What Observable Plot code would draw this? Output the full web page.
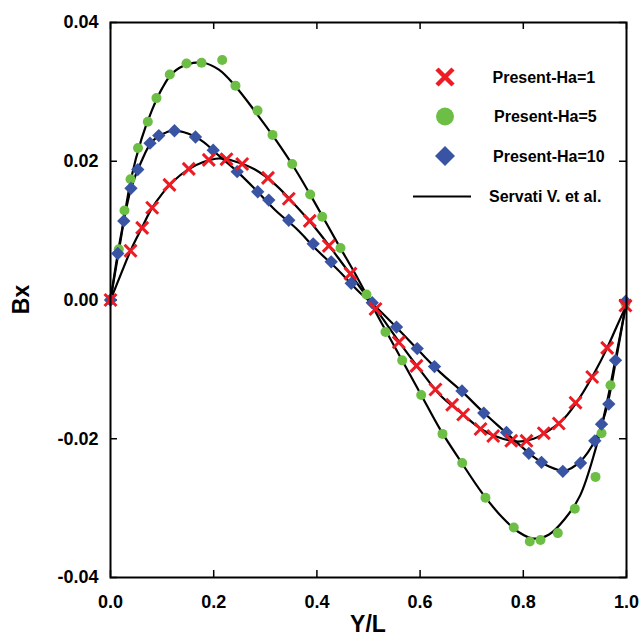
<!DOCTYPE html>
<html><head><meta charset="utf-8">
<script src="https://cdn.jsdelivr.net/npm/d3@7"></script>
<script src="https://cdn.jsdelivr.net/npm/@observablehq/plot@0.6"></script>
<style>
body{margin:0;background:#fff;}
#chart{width:640px;height:637px;}
</style></head><body><div id="chart"></div>
<script>
// Present results (markers)
const ha1X = [0, 0.0388, 0.0614, 0.0808, 0.1143, 0.1517, 0.1905, 0.2248, 0.2552, 0.3052, 0.3455, 0.3862, 0.4231, 0.4651, 0.5136, 0.5587, 0.5930, 0.6298, 0.6622, 0.6835, 0.7171, 0.7417, 0.7766, 0.8062, 0.8397, 0.8688, 0.9012, 0.9335, 0.9626, 0.998];
const ha1Y = [0, 0.0071, 0.0104, 0.0133, 0.0166, 0.0189, 0.0202, 0.0203, 0.0196, 0.0176, 0.0146, 0.0114, 0.0078, 0.0038, -0.0013, -0.0061, -0.0095, -0.0129, -0.0151, -0.0165, -0.0186, -0.0196, -0.0203, -0.0203, -0.0192, -0.0178, -0.0148, -0.0111, -0.0069, -0.0008];
const ha5X = [0, 0.0161, 0.0271, 0.0388, 0.0533, 0.0723, 0.0891, 0.1149, 0.1473, 0.1764, 0.2165, 0.2422, 0.2849, 0.3140, 0.3521, 0.3870, 0.4103, 0.4457, 0.4961, 0.5329, 0.5653, 0.6021, 0.6434, 0.6816, 0.7267, 0.7816, 0.8126, 0.8333, 0.8669, 0.8998, 0.9399, 0.9516, 0.9690, 0.998];
const ha5Y = [0, 0.0073, 0.0129, 0.0174, 0.0219, 0.0257, 0.0291, 0.0325, 0.0341, 0.0342, 0.0346, 0.0309, 0.0273, 0.0238, 0.0196, 0.0152, 0.0120, 0.0075, 0.0008, -0.0046, -0.0087, -0.0137, -0.0193, -0.0235, -0.0285, -0.0328, -0.0348, -0.0346, -0.0336, -0.0301, -0.0255, -0.0192, -0.0123, -0.0005];
const ha10X = [0, 0.0141, 0.0258, 0.0397, 0.0529, 0.0766, 0.0936, 0.1240, 0.1647, 0.1990, 0.2455, 0.2853, 0.3068, 0.3455, 0.3928, 0.4277, 0.4665, 0.5072, 0.5543, 0.5944, 0.6279, 0.6812, 0.7234, 0.7674, 0.8107, 0.8353, 0.8766, 0.9109, 0.9386, 0.9516, 0.9657, 0.9787, 0.998];
const ha10Y = [0, 0.0067, 0.0114, 0.0161, 0.0188, 0.0226, 0.0237, 0.0244, 0.0235, 0.0216, 0.0185, 0.0156, 0.0144, 0.0115, 0.0081, 0.0055, 0.0024, -0.0004, -0.0039, -0.0070, -0.0096, -0.0131, -0.0163, -0.0191, -0.0221, -0.0234, -0.0247, -0.0235, -0.0203, -0.0179, -0.0150, -0.0087, -0.0002];

// Servati V. et al. (solid lines)
const refX = [0, 0.02, 0.04, 0.06, 0.08, 0.10, 0.12, 0.15, 0.18, 0.21, 0.24, 0.28, 0.32, 0.36, 0.40, 0.44, 0.48, 0.52, 0.56, 0.60, 0.64, 0.68, 0.72, 0.76, 0.79, 0.82, 0.85, 0.88, 0.91, 0.94, 0.96, 0.98, 1.0];
const ref1Y = [0, 0.0037, 0.0073, 0.0103, 0.0132, 0.0153, 0.0170, 0.0188, 0.0199, 0.0204, 0.0200, 0.0188, 0.0166, 0.0135, 0.0101, 0.0062, 0.0022, -0.0019, -0.0061, -0.0101, -0.0138, -0.0163, -0.0187, -0.0200, -0.0204, -0.0200, -0.0188, -0.0170, -0.0140, -0.0102, -0.0073, -0.0040, -0.0007];
const ref5Y = [0, 0.0088, 0.0175, 0.0232, 0.0273, 0.0305, 0.0327, 0.0340, 0.0342, 0.0332, 0.0310, 0.0272, 0.0231, 0.0186, 0.0135, 0.0082, 0.0030, -0.0026, -0.0080, -0.0134, -0.0188, -0.0234, -0.0278, -0.0314, -0.0334, -0.0344, -0.0338, -0.0316, -0.0282, -0.0215, -0.0155, -0.0080, -0.0003];
const ref10Y = [0, 0.0092, 0.0161, 0.0200, 0.0228, 0.0239, 0.0244, 0.0240, 0.0228, 0.0208, 0.0189, 0.0160, 0.0129, 0.0103, 0.0072, 0.0044, 0.0013, -0.0014, -0.0044, -0.0075, -0.0105, -0.0131, -0.0160, -0.0187, -0.0207, -0.0226, -0.0240, -0.0246, -0.0233, -0.0201, -0.0160, -0.0085, -0.0002];

const xTicks = [0, 0.2, 0.4, 0.6, 0.8, 1.0];
const yTicks = [-0.04, -0.02, 0.00, 0.02, 0.04];
const seriesNames = ["Present-Ha=1", "Present-Ha=5", "Present-Ha=10", "Servati V. et al."];
const colors = {red: "#ed1c24", green: "#6cbe45", blue: "#3a54a4"};

const zip = (xs, ys) => xs.map((x, i) => ({x, y: ys[i]}));
const d1 = zip(ha1X, ha1Y), d5 = zip(ha5X, ha5Y), d10 = zip(ha10X, ha10Y);
const r1 = zip(refX, ref1Y), r5 = zip(refX, ref5Y), r10 = zip(refX, ref10Y);

const fmtX = d => d3.format(".1f")(d).replace("\u2212", "-");
const fmtY = d => d3.format(".2f")(d).replace("\u2212", "-");

const W = 640, H = 637, mL = 110, mR = 14, mT = 22, mB = 60;
const iW = W - mL - mR, iH = H - mT - mB, tick = 7;

const chart = Plot.plot({
  width: W, height: H,
  marginLeft: mL, marginRight: mR, marginTop: mT, marginBottom: mB,
  style: {fontFamily: "'Liberation Sans', Arial, sans-serif", fontWeight: "bold", background: "#fff", color: "#000"},
  x: {domain: [0, 1]},
  y: {domain: [-0.04, 0.04]},
  marks: [
    Plot.axisX(xTicks, {tickSize: 0, tickPadding: 18, fontSize: 18, tickFormat: fmtX, label: null}),
    Plot.axisY(yTicks, {tickSize: 0, tickPadding: 12, fontSize: 18, tickFormat: fmtY, label: null}),
    Plot.tickX(xTicks, {x: d => d, insetTop: iH - tick, stroke: "#000", strokeWidth: 1.5}),
    Plot.tickX(xTicks, {x: d => d, insetBottom: iH - tick, stroke: "#000", strokeWidth: 1.5}),
    Plot.tickY(yTicks, {y: d => d, insetRight: iW - tick, stroke: "#000", strokeWidth: 1.5}),
    Plot.tickY(yTicks, {y: d => d, insetLeft: iW - tick, stroke: "#000", strokeWidth: 1.5}),
    Plot.line(r1, {x: "x", y: "y", stroke: "#000", strokeWidth: 2.2, curve: "catmull-rom"}),
    Plot.line(r5, {x: "x", y: "y", stroke: "#000", strokeWidth: 2.2, curve: "catmull-rom"}),
    Plot.line(r10, {x: "x", y: "y", stroke: "#000", strokeWidth: 2.2, curve: "catmull-rom"}),
    Plot.dot(d5, {x: "x", y: "y", r: 5, fill: colors.green, stroke: "none"}),
    Plot.dot(d10, {x: "x", y: "y", r: 6, symbol: "diamond2", fill: colors.blue, stroke: "none"}),
    Plot.dot(d1, {x: "x", y: "y", r: 5.5, symbol: "times", fill: "none", stroke: colors.red, strokeWidth: 3}),
    Plot.frame({stroke: "#000", strokeWidth: 2})
  ]
});
document.getElementById("chart").appendChild(chart);

// axis titles and legend
const svg = d3.select(chart);
svg.append("text").attr("x", mL + iW / 2).attr("y", 632).attr("text-anchor", "middle")
  .attr("font-size", 23).attr("font-weight", "bold").text("Y/L");
svg.append("text").attr("transform", `translate(29,${mT + iH / 2}) rotate(-90)`).attr("text-anchor", "middle")
  .attr("font-size", 23).attr("font-weight", "bold").text("Bx");

const lg = svg.append("g").attr("font-size", 16).attr("font-weight", "bold").attr("text-anchor", "start");
const lx = 445;
lg.append("path").attr("d", `M${lx-8},69 L${lx+8},85 M${lx+8},69 L${lx-8},85`).attr("stroke", colors.red).attr("stroke-width", 4.5).attr("fill", "none");
lg.append("circle").attr("cx", lx).attr("cy", 116.5).attr("r", 9).attr("fill", colors.green);
lg.append("path").attr("d", `M${lx},146 L${lx+10},156 L${lx},166 L${lx-10},156 Z`).attr("fill", colors.blue);
lg.append("line").attr("x1", 413).attr("x2", 471).attr("y1", 196.5).attr("y2", 196.5).attr("stroke", "#000").attr("stroke-width", 2);
const ly = [77, 116.5, 156, 196.5];
const ltx = [492.5, 494, 493, 489];
seriesNames.forEach((s, i) => {
  lg.append("text").attr("x", ltx[i]).attr("y", ly[i]).attr("dy", "0.36em").attr("text-anchor", "start").text(s);
});
</script>
</body></html>
